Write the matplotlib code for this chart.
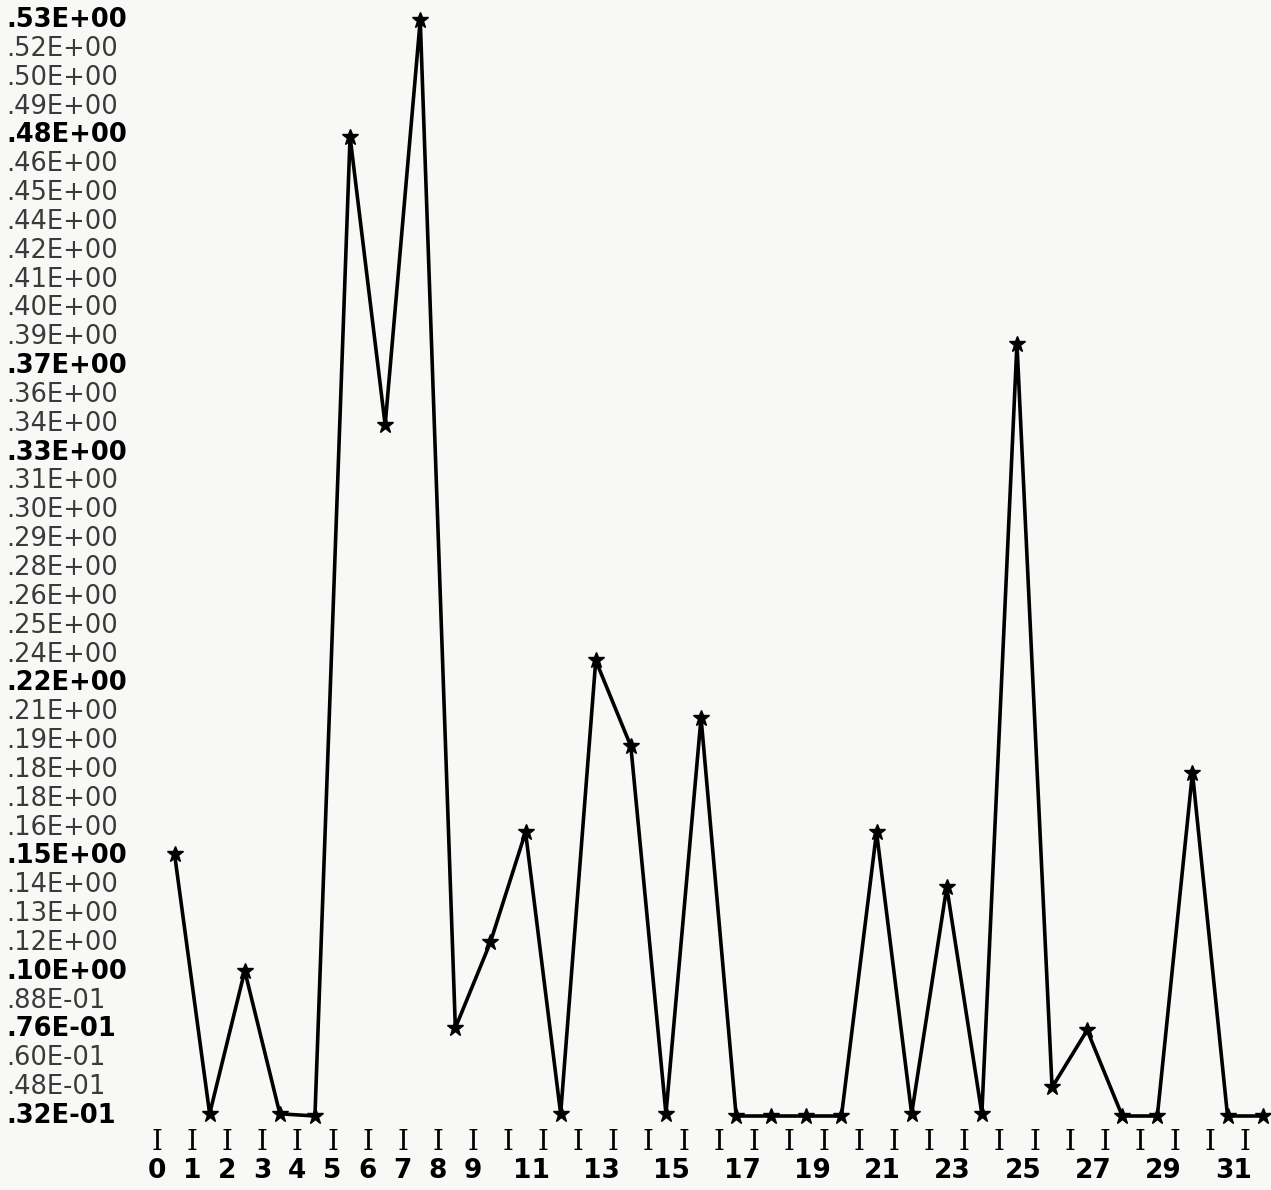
import numpy as np
import matplotlib
matplotlib.use("Agg")
import matplotlib.pyplot as plt

# dane (punkty w połowie przedziałów 0..31)
x_vals = [0.5, 1.5, 2.5, 3.5, 4.5, 5.5, 6.5, 7.5, 8.5, 9.5, 10.5, 11.5,
          12.5, 13.5, 14.5, 15.5, 16.5, 17.5, 18.5, 19.5, 20.5, 21.5,
          22.5, 23.5, 24.5, 25.5, 26.5, 27.5, 28.5, 29.5, 30.5, 31.5]
y_vals = [0.151, 0.033, 0.098, 0.033, 0.032, 0.477, 0.346, 0.530, 0.072,
          0.111, 0.161, 0.033, 0.239, 0.200, 0.033, 0.213, 0.032, 0.032,
          0.032, 0.032, 0.161, 0.033, 0.136, 0.033, 0.383, 0.045, 0.071,
          0.032, 0.032, 0.188, 0.032, 0.032]

y_labels = [".53E+00", ".52E+00", ".50E+00", ".49E+00", ".48E+00", ".46E+00",
            ".45E+00", ".44E+00", ".42E+00", ".41E+00", ".40E+00", ".39E+00",
            ".37E+00", ".36E+00", ".34E+00", ".33E+00", ".31E+00", ".30E+00",
            ".29E+00", ".28E+00", ".26E+00", ".25E+00", ".24E+00", ".22E+00",
            ".21E+00", ".19E+00", ".18E+00", ".18E+00", ".16E+00", ".15E+00",
            ".14E+00", ".13E+00", ".12E+00", ".10E+00", ".88E-01", ".76E-01",
            ".60E-01", ".48E-01", ".32E-01"]
bold_labels = {".53E+00", ".48E+00", ".37E+00", ".33E+00", ".22E+00",
               ".15E+00", ".10E+00", ".76E-01", ".32E-01"}

x_ticks = list(range(32))
x_labels = ["0", "1", "2", "3", "4", "5", "6", "7", "8", "9",
            "11", "13", "15", "17", "19", "21", "23", "25", "27", "29", "31"]

Y_MIN, Y_MAX = 0.032, 0.53
W, H = 1271, 1190
PX_UNIT = 35.1  # pikseli na jednostkę osi x

fig = plt.figure(figsize=(W / 100, H / 100), dpi=100)
fig.patch.set_facecolor("#f8f8f6")

left, top_px, bot_px = 157, 20, 1116
ax = fig.add_axes([left / W, (H - bot_px) / H, (W - left) / W, (bot_px - top_px) / H])
ax.set_xlim(0, (W - left) / PX_UNIT)
ax.set_ylim(Y_MIN, Y_MAX)
ax.axis("off")

ax.plot(x_vals, y_vals, color="black", lw=2.6, marker="*", ms=12,
        mec="black", mfc="black", clip_on=False, solid_joinstyle="miter")

# etykiety osi y (równe odstępy)
tick_pos = np.linspace(Y_MAX, Y_MIN, len(y_labels))
ytr = ax.get_yaxis_transform()
for pos, lab in zip(tick_pos, y_labels):
    if lab in bold_labels:
        ax.text(-151 / (W - left), pos, lab, transform=ytr, ha="left", va="center",
                fontsize=18.5, fontweight="bold", color="black", family="DejaVu Sans")
    else:
        ax.text(-151 / (W - left), pos, lab, transform=ytr, ha="left", va="center",
                fontsize=18.5, color="#3a3a3a", family="DejaVu Sans")

# oś x: znaczniki "I" i liczby
xtr = ax.get_xaxis_transform()
h_ax = bot_px - top_px
for t in x_ticks:
    ax.text(t, -(1142 - bot_px) / h_ax, "I", transform=xtr, ha="center", va="center",
            fontsize=20, family="DejaVu Serif", color="black")
for lab in x_labels:
    v = int(lab)
    xpos = v if len(lab) == 1 else v - 0.33
    ax.text(xpos, -(1171 - bot_px) / h_ax, lab, transform=xtr, ha="center", va="center",
            fontsize=19, fontweight="bold", family="DejaVu Sans", color="black")

fig.savefig("out.png", dpi=100, facecolor=fig.get_facecolor())
